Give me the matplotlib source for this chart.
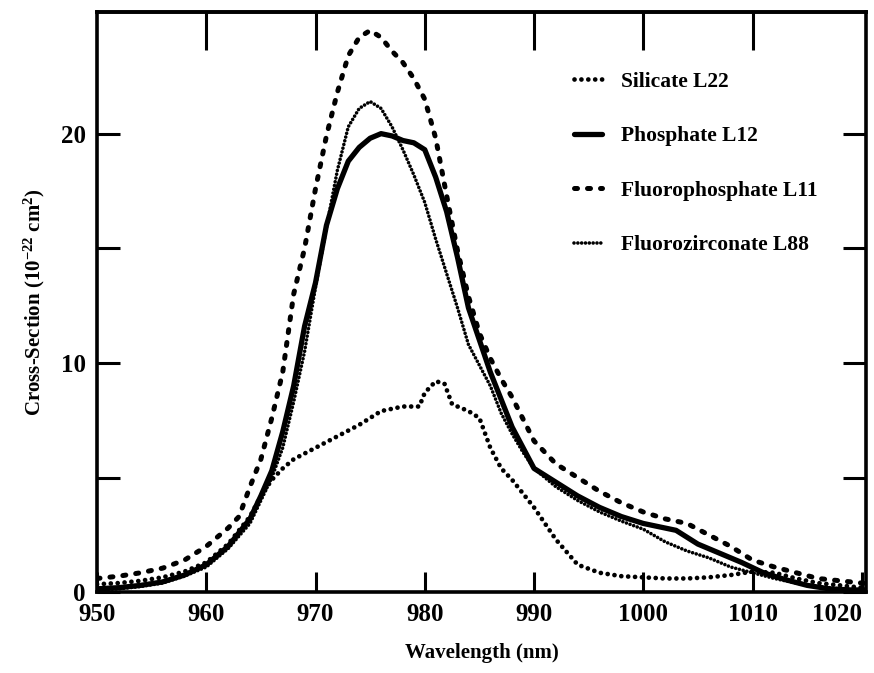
import numpy as np
import matplotlib.pyplot as plt

# Absorption cross-section spectra
wl_sil = [950, 952, 954, 956, 958, 960, 962, 964, 965, 966, 967, 968, 970, 972, 974, 976, 978,
          979.5, 980, 981, 981.8, 982.5, 984, 985, 986, 987, 988, 990, 992, 994, 996, 998, 1000,
          1002, 1004, 1006, 1008, 1010, 1012, 1014, 1016, 1018, 1020, 1021]
silicate = [0.35, 0.4, 0.5, 0.65, 0.9, 1.3, 2.1, 3.3, 4.2, 4.9, 5.4, 5.8, 6.3, 6.8, 7.3, 7.9, 8.1,
            8.1, 8.7, 9.2, 9.1, 8.2, 7.9, 7.6, 6.3, 5.4, 4.9, 3.7, 2.3, 1.2, 0.85, 0.7, 0.65,
            0.6, 0.6, 0.65, 0.75, 0.9, 0.85, 0.6, 0.4, 0.3, 0.2, 0.2]

wl_pho = [950, 952, 954, 956, 958, 960, 962, 964, 965, 966, 967, 968, 969, 970, 971, 972, 973, 974,
          975, 976, 977, 978, 979, 980, 981, 982, 983, 984, 985, 986, 987, 988, 990, 992, 994, 996,
          998, 1000, 1002, 1003, 1005, 1007, 1009, 1011, 1013, 1015, 1017, 1019, 1021]
phosphate = [0.15, 0.2, 0.3, 0.45, 0.75, 1.2, 2.0, 3.2, 4.2, 5.3, 7.0, 9.0, 11.6, 13.5, 16.0, 17.6,
             18.8, 19.4, 19.8, 20.0, 19.9, 19.7, 19.6, 19.3, 18.1, 16.6, 14.6, 12.4, 11.0, 9.6, 8.4,
             7.2, 5.4, 4.8, 4.2, 3.7, 3.3, 3.0, 2.8, 2.7, 2.1, 1.7, 1.3, 0.85, 0.55, 0.3, 0.15,
             0.1, 0.1]

wl_fph = [950, 952, 954, 956, 958, 960, 962, 963, 964, 965, 966, 967, 968, 969, 970, 971, 972, 973,
          974, 975, 976, 977, 978, 979, 980, 981, 982, 983, 984, 985, 986, 987, 988, 990, 992, 994,
          996, 998, 1000, 1002, 1004, 1006, 1008, 1010, 1012, 1014, 1016, 1018, 1020, 1021]
fluorophosphate = [0.6, 0.7, 0.85, 1.05, 1.4, 2.0, 2.8, 3.3, 4.6, 5.8, 7.6, 9.6, 13.0, 15.0, 17.6,
                   19.9, 21.8, 23.4, 24.2, 24.5, 24.2, 23.6, 23.1, 22.4, 21.5, 19.8, 17.3, 14.9,
                   12.9, 11.3, 10.2, 9.3, 8.5, 6.6, 5.6, 5.0, 4.4, 3.9, 3.5, 3.2, 3.0, 2.5, 2.0,
                   1.4, 1.1, 0.85, 0.6, 0.5, 0.4, 0.35]

wl_fzr = [950, 952, 954, 956, 958, 960, 962, 964, 965, 966, 967, 968, 969, 970, 971, 972, 973, 974,
          975, 976, 977, 978, 979, 980, 981, 982, 983, 984, 985, 986, 987, 988, 989, 990, 992, 994,
          996, 998, 1000, 1002, 1004, 1006, 1008, 1010, 1012, 1014, 1016, 1018, 1020, 1021]
fluorozirconate = [0.1, 0.15, 0.25, 0.4, 0.7, 1.1, 1.9, 3.0, 4.0, 5.0, 6.3, 8.3, 10.5, 13.3, 15.9,
                   18.4, 20.3, 21.1, 21.4, 21.1, 20.3, 19.3, 18.2, 17.0, 15.4, 13.9, 12.4, 10.8,
                   9.9, 9.0, 7.8, 6.9, 6.1, 5.4, 4.6, 4.0, 3.5, 3.1, 2.75, 2.2, 1.8, 1.5, 1.1,
                   0.85, 0.6, 0.4, 0.25, 0.15, 0.1, 0.1]

labels = ["Silicate L22", "Phosphate L12", "Fluorophosphate L11", "Fluorozirconate L88"]
xticks = [950, 960, 970, 980, 990, 1000, 1010, 1020]

plt.rcParams['font.family'] = ['Liberation Serif', 'DejaVu Serif']
plt.rcParams['font.weight'] = 'bold'
plt.rcParams['mathtext.fontset'] = 'custom'
plt.rcParams['mathtext.rm'] = 'Liberation Serif:bold'
plt.rcParams['mathtext.it'] = 'Liberation Serif:bold'
plt.rcParams['mathtext.bf'] = 'Liberation Serif:bold'

fig = plt.figure(figsize=(8.74, 6.73), dpi=100)
ax = fig.add_axes([0.111, 0.120, 0.880, 0.862])

ax.plot(wl_sil, silicate, color='black', lw=3.4, linestyle=(0, (0.01, 1.45)),
        dash_capstyle='round', label=labels[0])
ax.plot(wl_pho, phosphate, color='black', lw=3.8, solid_capstyle='round', label=labels[1])
ax.plot(wl_fph, fluorophosphate, color='black', lw=3.6, linestyle=(0, (0.6, 2.0)),
        dash_capstyle='round', label=labels[2])
ax.plot(wl_fzr, fluorozirconate, color='black', lw=2.6, linestyle=(0, (0.01, 1.05)),
        dash_capstyle='round', label=labels[3])

ax.set_xlim(950, 1020.4)
ax.set_ylim(0, 25.3)
ax.set_xticks(xticks)
ax.set_yticks([0, 10, 20])
ax.set_yticks([5, 15], minor=True)
ax.tick_params(axis='both', which='both', direction='in', right=True,
               width=2.2, labelsize=18, pad=8)
ax.tick_params(axis='y', which='both', length=16.5)
ax.tick_params(axis='x', which='major', length=14.5)
ticklabels = ax.get_xticklabels()
ticklabels[-1].set_horizontalalignment('right')
for s in ax.spines.values():
    s.set_linewidth(2.6)

# longer ticks along the top edge
top = ax.secondary_xaxis('top')
top.set_xticks(xticks[1:-1])
top.tick_params(direction='in', length=27, width=2.2, labeltop=False)
top.spines['top'].set_linewidth(2.6)

ax.set_xlabel("Wavelength (nm)", fontsize=15, fontweight='bold', labelpad=12)
ax.set_ylabel(r"Cross-Section (10$^{-22}$ cm$^{2}$)", fontsize=15, fontweight='bold', labelpad=10)

leg = ax.legend(loc='upper left', bbox_to_anchor=(0.62, 0.897), frameon=False,
                fontsize=15.5, handlelength=1.3, handletextpad=0.9, labelspacing=1.6,
                borderpad=0, borderaxespad=0)

fig.savefig("out.png", dpi=100)
